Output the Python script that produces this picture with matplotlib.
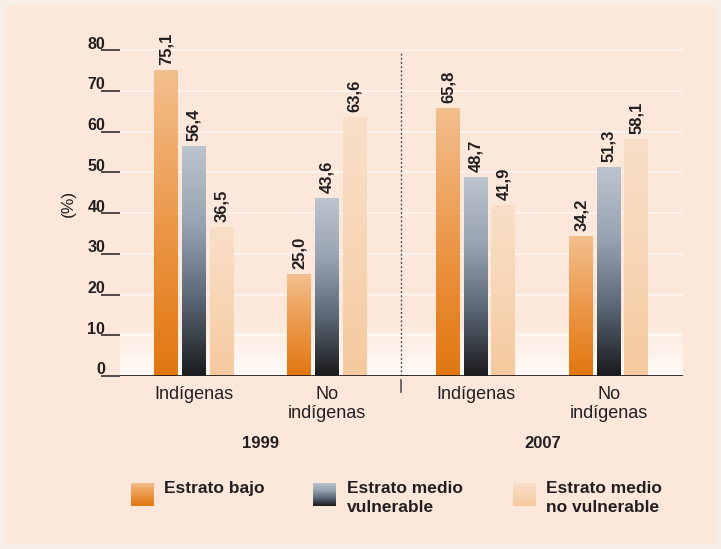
import numpy as np
import matplotlib
matplotlib.use("Agg")
import matplotlib.pyplot as plt
from matplotlib.colors import LinearSegmentedColormap
from matplotlib.patches import Rectangle
from matplotlib.transforms import blended_transform_factory

plt.rcParams["font.family"] = ["Liberation Sans", "DejaVu Sans"]

# data
groups = ["Indígenas", "No\nindígenas", "Indígenas", "No\nindígenas"]
years = ["1999", "2007"]
series = ["Estrato bajo", "Estrato medio\nvulnerable", "Estrato medio\nno vulnerable"]
bajo = [75.1, 25.0, 65.8, 34.2]
medio_vuln = [56.4, 43.6, 48.7, 51.3]
medio_no_vuln = [36.5, 63.6, 41.9, 58.1]
yticks = [0, 10, 20, 30, 40, 50, 60, 70, 80]

bg = "#fce8da"
txt = "#231f20"

cmaps = [
    LinearSegmentedColormap.from_list("bajo", ["#e2760f", "#ec9849", "#f3bf8e"]),
    LinearSegmentedColormap.from_list("vuln", ["#1a1a1c", "#5a6775", "#98a4b2", "#bcc4ce"]),
    LinearSegmentedColormap.from_list("novuln", ["#f5c99d", "#f7d6b6", "#f9dfc8"]),
]

xpos = np.array([0, 1, 2.12, 3.12])
offsets = [-0.207, 0, 0.207]
width = 0.18
divider = 1.556


def fmt(v):
    return f"{v:.1f}".replace(".", ",")


def grad_bar(ax, x, h, cmap):
    img = np.linspace(0, 1, 256).reshape(-1, 1)
    ax.imshow(img, cmap=cmap, origin="lower", aspect="auto",
              extent=(x - width / 2, x + width / 2, 0, h), zorder=3)


fig = plt.figure(figsize=(7.21, 5.49), dpi=100)
fig.patch.set_facecolor("#f8eee8")
fig.patches.append(Rectangle((6 / 721, 6 / 549), 1 - 12 / 721, 1 - 12 / 549,
                             transform=fig.transFigure, color=bg, zorder=-10))

ax = fig.add_axes([120 / 721, 1 - 376 / 549, 563 / 721, 346 / 549])
ax.set_facecolor("none")

# whitish haze just above the baseline
haze = np.zeros((64, 1, 4))
haze[..., :3] = 1.0
haze[:, 0, 3] = np.linspace(0.8, 0, 64)
ax.imshow(haze, origin="lower", aspect="auto", extent=(-0.556, 3.677, 0, 14), zorder=0.5)

for v in yticks[1:]:
    ax.axhline(v, color="white", lw=1.3, alpha=0.55, zorder=1)

for vals, off, cmap in zip([bajo, medio_vuln, medio_no_vuln], offsets, cmaps):
    for x, v in zip(xpos + off, vals):
        grad_bar(ax, x, v, cmap)
        ax.annotate(fmt(v), (x, v), xytext=(0, 4), textcoords="offset points",
                    rotation=90, ha="center", va="bottom", fontsize=12,
                    fontweight="bold", color=txt)

ax.axhline(0, color=txt, lw=1.3, zorder=4)
ax.plot([divider, divider], [0, 79.5], ls=(0, (1.5, 1.5)), color="#555555", lw=1, zorder=2)
ax.plot([divider, divider], [-1, -4], color="#555555", lw=1.2, clip_on=False)

ax.set_xlim(-0.556, 3.677)
ax.set_ylim(0, 85)
for s in ax.spines.values():
    s.set_visible(False)

ax.set_yticks(yticks)
ax.set_yticklabels([])
ax.tick_params(axis="y", length=14, width=1.1, color=txt, direction="out")
ytr = ax.get_yaxis_transform()
for v in yticks:
    ax.text(-0.026, v + 0.4, str(v), transform=ytr, ha="right", va="baseline",
            fontsize=11.5, fontweight="bold", color=txt)
ax.set_ylabel("(%)", fontsize=12.5, color=txt, labelpad=14)

ax.set_xticks(xpos)
ax.set_xticklabels(groups, fontsize=13, color=txt, linespacing=1.15)
ax.tick_params(axis="x", length=0, pad=7)

btr = blended_transform_factory(ax.transData, fig.transFigure)
for (a, b), yr in zip([(xpos[0], xpos[1]), (xpos[2], xpos[3])], years):
    ax.text((a + b) / 2, 1 - 443 / 549, yr, transform=btr, ha="center", va="center",
            fontsize=12, fontweight="bold", color=txt)

# legend
leg_sq = [131, 313, 513]
leg_tx = [164, 347, 546]
for sq, tx, label, cmap in zip(leg_sq, leg_tx, series, cmaps):
    lax = fig.add_axes([sq / 721, 1 - 506 / 549, 23 / 721, 23 / 549])
    lax.imshow(np.linspace(0, 1, 64).reshape(-1, 1), cmap=cmap, origin="lower", aspect="auto")
    lax.axis("off")
    fig.text(tx / 721, 1 - 481 / 549, label, ha="left", va="top", fontsize=12.5,
             fontweight="bold", color=txt, linespacing=1.3)

fig.savefig("out.png", dpi=100, facecolor=fig.get_facecolor())
